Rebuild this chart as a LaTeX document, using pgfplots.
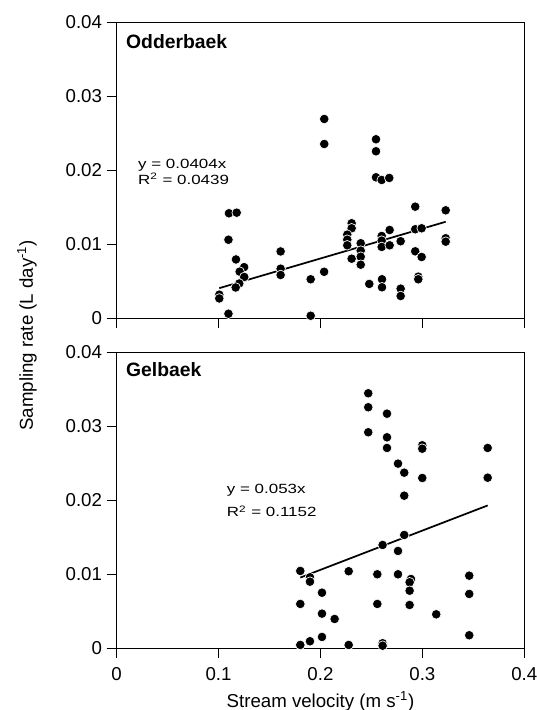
\documentclass[border=0pt]{standalone}
\usepackage{fontspec}
\setmainfont{Liberation Sans}
\usepackage{pgfplots}
\pgfplotsset{compat=1.18}
\usetikzlibrary{calc}

\pgfplotsset{
  panel/.style={
    scale only axis, width=305.7pt, height=222pt,
    xmin=0, xmax=0.4, ymin=0, ymax=0.04,
    xtick={0,0.1,0.2,0.3,0.4}, ytick={0,0.01,0.02,0.03,0.04},
    scaled ticks=false,
    tick align=outside, tick pos=left, major tick length=7.5pt,
    axis line style={line width=0.8pt},
    tick style={line width=0.8pt, black},
    /pgf/number format/assume math mode=true,
    /pgf/number format/fixed,
    ticklabel style={font=\fontsize{14}{16}\selectfont},
    xticklabel style={yshift=-3pt},
    clip=false,
  },
  dots/.style={only marks, mark=*, mark size=3.6pt,
    mark options={fill=black, draw=white, line width=0.5pt}},
  fit/.style={no marks, black, line width=1.3pt},
}
\newcommand{\eq}[1]{\scalebox{1.27}[1]{\fontsize{10}{12}\selectfont #1}}

\begin{document}
\begin{tikzpicture}
\useasboundingbox (-87.5pt,-293.8pt) rectangle (315.2pt,238.7pt);

% Odderbaek
\begin{axis}[panel, name=top, at={(0,0)}, anchor=south west, xticklabels={}]
\addplot[fit] coordinates {(0.1007,0.00407) (0.3229,0.01304)};
\addplot[dots] coordinates {
(0.1102,0.01419) (0.1178,0.01427) (0.1097,0.01061) (0.1171,0.00795)
(0.1251,0.00691) (0.1207,0.00630) (0.1252,0.00558) (0.1203,0.00470)
(0.1168,0.00416) (0.1007,0.00319) (0.1007,0.00268) (0.1097,0.00061)
(0.1609,0.00903) (0.1609,0.00670) (0.1609,0.00585) (0.1904,0.00527)
(0.2036,0.00628) (0.1904,0.00034) (0.2037,0.02693) (0.2037,0.02355)
(0.2545,0.02419) (0.2545,0.02257) (0.2545,0.01905) (0.2601,0.01869)
(0.2675,0.01896) (0.2306,0.01284) (0.2306,0.01216) (0.2263,0.01130)
(0.2263,0.01062) (0.2263,0.00986) (0.2395,0.01014) (0.2395,0.00914)
(0.2395,0.00832) (0.2395,0.00724) (0.2306,0.00805) (0.2479,0.00464)
(0.2601,0.01112) (0.2601,0.01049) (0.2601,0.00964) (0.2679,0.01193)
(0.2679,0.00986) (0.2787,0.01041) (0.2604,0.00527) (0.2604,0.00419)
(0.2787,0.00400) (0.2787,0.00301) (0.2930,0.01508) (0.2930,0.01203)
(0.2993,0.01216) (0.2930,0.00905) (0.2993,0.00828) (0.2960,0.00562)
(0.2960,0.00527) (0.3229,0.01459) (0.3229,0.01081) (0.3229,0.01035)
};
\node[anchor=west, font=\bfseries\fontsize{14.5}{16}\selectfont, inner sep=0pt]
  at (axis cs:0.0091,0.0374) {Odderbaek};
\node[anchor=west, inner sep=0pt]
  at (axis cs:0.0209,0.0207) {\eq{y = 0.0404x}};
\node[anchor=west, inner sep=0pt]
  at (axis cs:0.0209,0.0189) {\eq{R\textsuperscript{2} = 0.0439}};
\end{axis}

% Gelbaek
\begin{axis}[panel, name=bot, at={($(top.south west)+(0,-25.5pt)$)}, anchor=north west,
  xlabel={Stream velocity (m s\textsuperscript{-1})},
  xlabel style={font=\fontsize{14}{16}\selectfont, yshift=-1.5pt}]
\addplot[fit] coordinates {(0.1802,0.00955) (0.3641,0.01930)};
\addplot[dots] coordinates {
(0.2469,0.03446) (0.2469,0.03257) (0.2653,0.03170) (0.2469,0.02919)
(0.2653,0.02851) (0.2653,0.02707) (0.2999,0.02743) (0.2999,0.02697)
(0.2761,0.02495) (0.2822,0.02373) (0.2999,0.02301) (0.3641,0.02707)
(0.3641,0.02305) (0.2822,0.02062) (0.2822,0.01531) (0.2610,0.01396)
(0.2761,0.01315) (0.1802,0.01045) (0.1897,0.00959) (0.1897,0.00900)
(0.2277,0.01041) (0.2558,0.01000) (0.2761,0.01000) (0.2888,0.00936)
(0.2875,0.00892) (0.2875,0.00778) (0.2875,0.00585) (0.3460,0.00981)
(0.3460,0.00734) (0.3460,0.00176) (0.3136,0.00459) (0.2015,0.00751)
(0.2015,0.00468) (0.2139,0.00396) (0.1802,0.00599) (0.2558,0.00599)
(0.2015,0.00153) (0.1897,0.00095) (0.1802,0.00045) (0.2277,0.00045)
(0.2610,0.00068) (0.2610,0.00035)
};
\node[anchor=west, font=\bfseries\fontsize{14.5}{16}\selectfont, inner sep=0pt]
  at (axis cs:0.0091,0.0376) {Gelbaek};
\node[anchor=west, inner sep=0pt]
  at (axis cs:0.108,0.0213) {\eq{y = 0.053x}};
\node[anchor=west, inner sep=0pt]
  at (axis cs:0.108,0.0185) {\eq{R\textsuperscript{2} = 0.1152}};
\end{axis}

\node[rotate=90, font=\fontsize{14}{16}\selectfont]
  at ($(top.south west)!0.5!(bot.north west)+(-67.3pt,0)$)
  {Sampling rate (L day\textsuperscript{-1})};
\end{tikzpicture}
\end{document}
